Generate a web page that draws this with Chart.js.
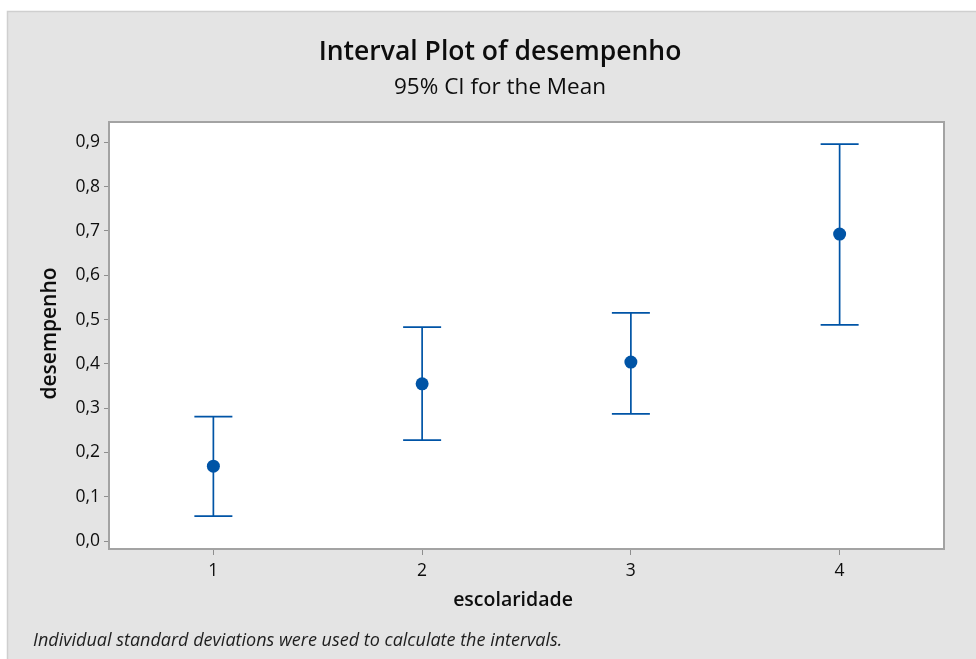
<!DOCTYPE html>
<html>
<head>
<meta charset="utf-8">
<title>Interval Plot of desempenho</title>
<script src="https://cdn.jsdelivr.net/npm/chart.js@4"></script>
<style>
  html, body { margin: 0; padding: 0; background: #fff; }
  #wrap { width: 976px; height: 659px; }
</style>
</head>
<body>
<div id="wrap"><canvas id="intervalChart" width="976" height="659"></canvas></div>
<script>
// DATA
const escolaridade = [1, 2, 3, 4];
const mediaDesempenho = [0.169, 0.355, 0.404, 0.693];
const limiteInferior = [0.056, 0.228, 0.287, 0.488];
const limiteSuperior = [0.281, 0.483, 0.515, 0.896];

const yTicks = [0.0, 0.1, 0.2, 0.3, 0.4, 0.5, 0.6, 0.7, 0.8, 0.9];
const xTicks = [1, 2, 3, 4];
const yMin = -0.018, yMax = 0.946;
const xMin = 0.5, xMax = 4.5;

const titulo = "Interval Plot of desempenho";
const subtitulo = "95% CI for the Mean";
const tituloX = "escolaridade";
const tituloY = "desempenho";
const rodape = "Individual standard deviations were used to calculate the intervals.";

// STYLE
const AZUL = "#0054a6";
const CINZA_FUNDO = "#e4e4e4";
const FONTE = "'Open Sans', 'Noto Sans', sans-serif";
const TEXTO = "#0d0d0d";

// background panel + plot frame
const painel = {
  id: "painel",
  beforeDraw(chart) {
    const { ctx, width, height, chartArea: a } = chart;
    ctx.save();
    ctx.fillStyle = "#fff";
    ctx.fillRect(0, 0, width, height);
    ctx.fillStyle = CINZA_FUNDO;
    ctx.fillRect(7, 11, width - 7, height - 11);
    ctx.strokeStyle = "#cfcfcf";
    ctx.lineWidth = 1.5;
    ctx.beginPath();
    ctx.moveTo(7.5, height);
    ctx.lineTo(7.5, 11.5);
    ctx.lineTo(width, 11.5);
    ctx.stroke();
    ctx.fillStyle = "#fff";
    ctx.fillRect(a.left, a.top, a.right - a.left, a.bottom - a.top);
    ctx.restore();
  },
  afterDraw(chart) {
    const { ctx, chartArea: a } = chart;
    ctx.save();
    ctx.strokeStyle = "#a3a3a3";
    ctx.lineWidth = 2;
    ctx.strokeRect(a.left, a.top, a.right - a.left, a.bottom - a.top);
    ctx.restore();
  }
};

// 95% CI whiskers
const intervalos = {
  id: "intervalos",
  beforeDatasetsDraw(chart) {
    const { ctx, scales: { x, y } } = chart;
    const cap = 19;
    ctx.save();
    ctx.strokeStyle = AZUL;
    ctx.lineWidth = 1.7;
    escolaridade.forEach((e, i) => {
      const px = x.getPixelForValue(e);
      const yl = y.getPixelForValue(limiteInferior[i]);
      const yu = y.getPixelForValue(limiteSuperior[i]);
      ctx.beginPath();
      ctx.moveTo(px, yu);
      ctx.lineTo(px, yl);
      ctx.moveTo(px - cap, yu);
      ctx.lineTo(px + cap, yu);
      ctx.moveTo(px - cap, yl);
      ctx.lineTo(px + cap, yl);
      ctx.stroke();
    });
    ctx.restore();
  }
};

// titles, axis labels, footnote
const rotulos = {
  id: "rotulos",
  afterDraw(chart) {
    const { ctx, chartArea: a } = chart;
    ctx.save();
    ctx.fillStyle = TEXTO;
    ctx.textAlign = "center";
    ctx.textBaseline = "middle";

    ctx.font = `600 26.5px ${FONTE}`;
    ctx.fillText(titulo, 500, 52);
    ctx.font = `22.5px ${FONTE}`;
    ctx.fillText(subtitulo, 500, 88);

    ctx.font = `600 19.5px ${FONTE}`;
    ctx.fillText(tituloX, 513, 600);

    ctx.save();
    ctx.translate(50, (a.top + a.bottom) / 2 - 2);
    ctx.rotate(-Math.PI / 2);
    ctx.font = `600 21px ${FONTE}`;
    ctx.fillText(tituloY, 0, 0);
    ctx.restore();

    ctx.textAlign = "left";
    ctx.textBaseline = "alphabetic";
    ctx.font = `italic 18px ${FONTE}`;
    ctx.fillStyle = "#1e1e1e";
    ctx.fillText(rodape, 33, 646);
    ctx.restore();
  }
};

const pontos = escolaridade.map((e, i) => ({ x: e, y: mediaDesempenho[i] }));

new Chart(document.getElementById("intervalChart"), {
  type: "scatter",
  data: {
    datasets: [{
      label: tituloY,
      data: pontos,
      pointRadius: 6.5,
      pointHoverRadius: 6.5,
      backgroundColor: AZUL,
      borderColor: AZUL,
      borderWidth: 0
    }]
  },
  options: {
    responsive: false,
    animation: false,
    devicePixelRatio: 1,
    layout: { padding: { left: 0, top: 122, right: 32, bottom: 0 } },
    plugins: {
      legend: { display: false },
      tooltip: { enabled: false },
      title: { display: false }
    },
    scales: {
      x: {
        type: "linear",
        min: xMin,
        max: xMax,
        afterBuildTicks(scale) {
          scale.ticks = xTicks.map(v => ({ value: v }));
        },
        afterFit(scale) { scale.height = 110; },
        grid: {
          drawOnChartArea: false,
          drawTicks: true,
          tickLength: 6,
          color: "#8e8e8e",
          lineWidth: 1
        },
        border: { display: false },
        ticks: {
          color: TEXTO,
          font: { family: FONTE, size: 17.5 },
          padding: 6,
          maxRotation: 0,
          callback: v => String(v)
        }
      },
      y: {
        type: "linear",
        min: yMin,
        max: yMax,
        afterBuildTicks(scale) {
          scale.ticks = yTicks.map(v => ({ value: v }));
        },
        afterFit(scale) { scale.width = 109; },
        grid: {
          drawOnChartArea: false,
          drawTicks: true,
          tickLength: 5,
          color: "#8e8e8e",
          lineWidth: 1
        },
        border: { display: false },
        ticks: {
          color: TEXTO,
          font: { family: FONTE, size: 17.5 },
          padding: 4,
          callback: v => v.toFixed(1).replace(".", ",")
        }
      }
    }
  },
  plugins: [painel, intervalos, rotulos]
});
</script>
</body>
</html>
